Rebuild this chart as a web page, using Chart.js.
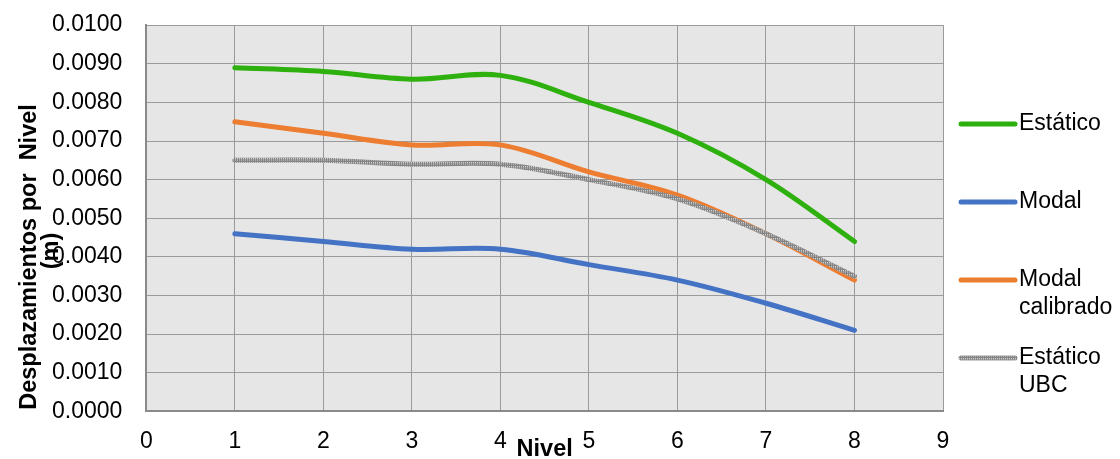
<!DOCTYPE html>
<html>
<head>
<meta charset="utf-8">
<script src="https://cdn.jsdelivr.net/npm/chart.js@4.4.1/dist/chart.umd.min.js"></script>
<style>
  html, body { margin: 0; padding: 0; background: #fff; }
  #wrap { width: 1120px; height: 459px; }
</style>
</head>
<body>
<div id="wrap"><canvas id="grafico" width="1120" height="459"></canvas></div>
<script>
// niveles del edificio
const niveles = [1, 2, 3, 4, 5, 6, 7, 8];
// desplazamientos por nivel (m)
const estatico = [0.0089, 0.0088, 0.0086, 0.0087, 0.0080, 0.0072, 0.0060, 0.0044];
const modal = [0.0046, 0.0044, 0.0042, 0.0042, 0.0038, 0.0034, 0.0028, 0.0021];
const modalCalibrado = [0.0075, 0.0072, 0.0069, 0.0069, 0.0062, 0.0056, 0.0046, 0.0034];
const estaticoUBC = [0.0065, 0.0065, 0.0064, 0.0064, 0.0060, 0.0055, 0.0046, 0.0035];
const nombres = [['Estático'], ['Modal'], ['Modal', 'calibrado'], ['Estático', 'UBC']];
const colores = ['#2eb10e', '#4472c4', '#ed7d31', null];

const fuente = "'Liberation Sans', Arial, sans-serif";

// textura gris de la serie UBC
function texturaGris() {
    const c = document.createElement('canvas');
    c.width = 4; c.height = 4;
    const g = c.getContext('2d');
    g.fillStyle = '#ababab';
    g.fillRect(0, 0, 4, 4);
    g.fillStyle = '#858585';
    g.fillRect(0, 0, 1, 4);
    g.fillRect(2, 0, 1, 4);
    g.fillRect(0, 1, 4, 1);
    g.fillStyle = '#cfcfcf';
    g.fillRect(1, 2, 1, 1);
    g.fillRect(3, 2, 1, 1);
    return g.createPattern(c, 'repeat');
}
colores[3] = texturaGris();

function puntos(valores) {
    return niveles.map((n, i) => ({ x: n, y: valores[i] }));
}

const series = [estatico, modal, modalCalibrado, estaticoUBC];
const datasets = series.map((s, i) => ({
    label: nombres[i].join(' '),
    data: puntos(s),
    borderColor: colores[i],
    backgroundColor: colores[i],
    borderWidth: 5,
    pointRadius: 0,
    tension: 0.35,
    borderCapStyle: 'round',
    borderJoinStyle: 'round',
    order: i === 3 ? 0 : 1
}));

const fondoPlot = {
    id: 'fondoPlot',
    beforeDraw(chart) {
        const a = chart.chartArea;
        const ctx = chart.ctx;
        ctx.save();
        ctx.fillStyle = '#e6e6e6';
        ctx.fillRect(a.left, a.top, a.right - a.left, a.bottom - a.top);
        ctx.restore();
    }
};

const textos = {
    id: 'textos',
    afterDraw(chart) {
        const ctx = chart.ctx;
        const a = chart.chartArea;
        ctx.save();
        // titulo eje Y
        ctx.fillStyle = '#000';
        ctx.font = 'bold 23.5px ' + fuente;
        ctx.textAlign = 'center';
        ctx.textBaseline = 'middle';
        ctx.translate(30, 257);
        ctx.rotate(-Math.PI / 2);
        ctx.fillText('Desplazamientos por  Nivel', 0, 0);
        ctx.fillText('(m)', 6, 22);
        ctx.restore();

        // titulo eje X
        ctx.save();
        ctx.font = 'bold 23.5px ' + fuente;
        ctx.fillStyle = '#000';
        ctx.textAlign = 'center';
        ctx.textBaseline = 'middle';
        ctx.fillText('Nivel', (a.left + a.right) / 2, 450);
        ctx.restore();

        // leyenda
        ctx.save();
        ctx.font = '23px ' + fuente;
        ctx.textAlign = 'left';
        ctx.textBaseline = 'middle';
        chart.data.datasets.forEach((d, i) => {
            const y = 124 + i * 78;
            ctx.strokeStyle = d.borderColor;
            ctx.lineWidth = 5;
            ctx.lineCap = 'round';
            ctx.beginPath();
            ctx.moveTo(961, y);
            ctx.lineTo(1015, y);
            ctx.stroke();
            ctx.fillStyle = '#000';
            nombres[i].forEach((t, k) => ctx.fillText(t, 1019, y + k * 28));
        });
        ctx.restore();
    }
};

const grafico = new Chart(document.getElementById('grafico'), {
    type: 'line',
    data: { datasets: datasets },
    options: {
        responsive: false,
        animation: false,
        layout: { padding: { left: 28, right: 177, top: 0, bottom: -12 } },
        plugins: {
            legend: { display: false },
            tooltip: { enabled: false }
        },
        scales: {
            x: {
                type: 'linear',
                min: 0,
                max: 9,
                ticks: {
                    stepSize: 1,
                    padding: 16,
                    color: '#000',
                    font: { family: fuente, size: 23 }
                },
                grid: { color: '#9a9a9a', lineWidth: 1, drawTicks: false },
                border: { color: '#8a8a8a', width: 2 }
            },
            y: {
                min: 0,
                max: 0.01,
                ticks: {
                    stepSize: 0.001,
                    padding: 24,
                    color: '#000',
                    font: { family: fuente, size: 23, lineHeight: 0.1 },
                    callback: v => v.toFixed(4)
                },
                grid: { color: '#9a9a9a', lineWidth: 1, drawTicks: false },
                border: { color: '#8a8a8a', width: 2 }
            }
        }
    },
    plugins: [fondoPlot, textos]
});
</script>
</body>
</html>
